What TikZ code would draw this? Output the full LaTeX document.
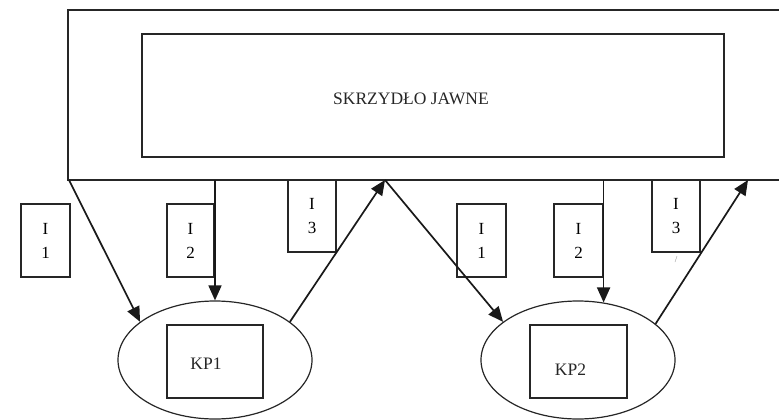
\documentclass[tikz,border=0pt]{standalone}
\usepackage{fontspec}
\setmainfont{Liberation Serif}
\usetikzlibrary{arrows.meta,shapes.geometric}
\begin{document}
\begin{tikzpicture}[x=1pt,y=-1pt,
  box/.style={draw=black!85,line width=1.2pt,rectangle,inner sep=0pt},
  ibox/.style={box,minimum width=48pt,minimum height=73pt,align=center,font=\fontsize{17}{24}\selectfont},
  oval/.style={draw=black!85,line width=1.2pt,ellipse,minimum width=194pt,minimum height=118pt,inner sep=0pt},
  lbl/.style={font=\fontsize{17.5}{20}\selectfont,text=black!85,inner sep=0pt},
  arr/.style={draw=black!90,line width=1.7pt,-{Triangle[length=15pt,width=13pt]}}]
\useasboundingbox (0,0) rectangle (779,420);
% outer wing (open on the right)
\draw[draw=black!85,line width=1.2pt] (790,10) -- (68,10) -- (68,180) -- (790,180);
\node[box,minimum width=582pt,minimum height=123pt] (inner) at (433,95.5) {};
\node[lbl] (title) at (411,98.5) {SKRZYDŁO JAWNE};
% interface boxes
\node[ibox,minimum width=49pt] (i1a) at (45.5,240.5) {I\\1};
\node[ibox,minimum width=47pt] (i2a) at (190.5,240.5) {I\\2};
\node[ibox,minimum height=72pt] (i3a) at (312,216) {I\\3};
\node[ibox,minimum width=49pt] (i1b) at (481.5,240.5) {I\\1};
\node[ibox,minimum width=49pt] (i2b) at (578.5,240.5) {I\\2};
\node[ibox,minimum height=72pt] (i3b) at (676,216) {I\\3};
\node[font=\fontsize{9}{10}\selectfont,text=black!50,inner sep=0pt] (mark) at (676,260) {/};
% crypto modules
\node[oval] (e1) at (215,360) {};
\node[oval] (e2) at (578,360) {};
\node[box,minimum width=96pt,minimum height=73pt] (kp1) at (215,361.5) {};
\node[box,minimum width=97pt,minimum height=73pt] (kp2) at (578.5,361.5) {};
\node[lbl] (kp1t) at (206,364) {KP1};
\node[lbl] (kp2t) at (570.5,370) {KP2};
% points on the wing's lower edge
\coordinate (t1) at (69,180);
\coordinate (t2) at (215,180);
\coordinate (t3) at (385,180);
\coordinate (t5) at (603,180);
\coordinate (t6) at (748,180);
% connectors
\draw[arr] (t1) -- (e1.153);
\draw[arr] (t2) -- (e1.north);
\draw[arr] (e1.27) -- (t3);
\draw[arr] (t3) -- (e2.153);
\draw[arr] (e2.66 |- t5) -- (e2.66);
\draw[arr] (e2.25) -- (t6);
\end{tikzpicture}
\end{document}
